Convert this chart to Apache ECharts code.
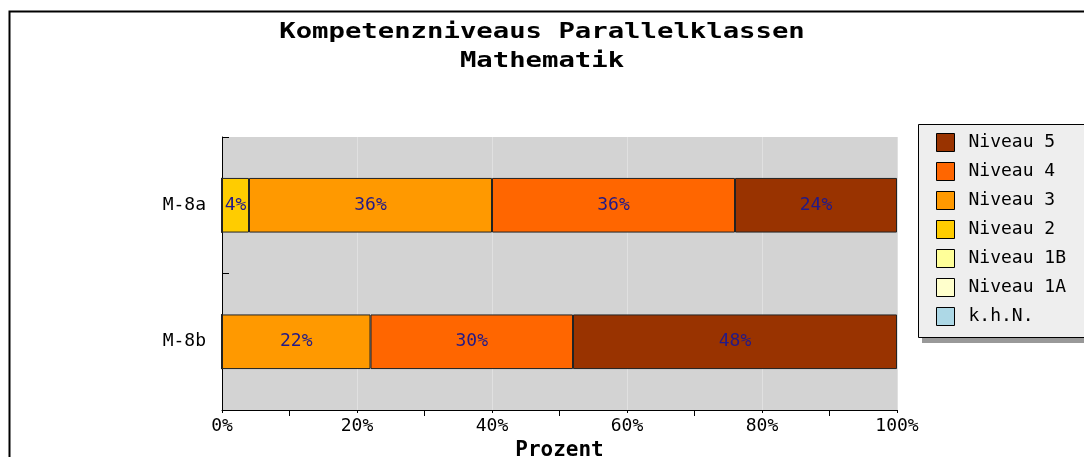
<!DOCTYPE html>
<html><head><meta charset="utf-8">
<script src="https://cdn.jsdelivr.net/npm/echarts@6/dist/echarts.min.js"></script>
<style>html,body{margin:0;padding:0;background:#fff}#c{width:1084px;height:457px}</style>
</head><body><div id="c"></div>
<script>
const titleLines = ['Kompetenzniveaus Parallelklassen', 'Mathematik'];
const categories = ['M-8a', 'M-8b'];
const seriesNames = ['k.h.N.', 'Niveau 1A', 'Niveau 1B', 'Niveau 2', 'Niveau 3', 'Niveau 4', 'Niveau 5'];
const khN = [0, 0];
const niveau1A = [0, 0];
const niveau1B = [0, 0];
const niveau2 = [4, 0];
const niveau3 = [36, 22];
const niveau4 = [36, 30];
const niveau5 = [24, 48];
const xTicks = ['0%', '20%', '40%', '60%', '80%', '100%'];

const values = [khN, niveau1A, niveau1B, niveau2, niveau3, niveau4, niveau5];
const colors = ['#add8e6', '#ffffcc', '#ffff99', '#ffcc00', '#ff9900', '#ff6600', '#993300'];
const font = '"DejaVu Sans Mono", monospace';

const chart = echarts.init(document.getElementById('c'), null, {renderer: 'canvas'});
chart.setOption({
  animation: false,
  backgroundColor: '#fff',
  graphic: [
    {type: 'rect', left: 7, top: 9, shape: {width: 1200, height: 600},
      style: {fill: 'none', stroke: '#000', lineWidth: 2}, silent: true, z: 0},
    {type: 'text', x: 542, y: 32, scaleX: 1.24, silent: true,
      style: {text: titleLines[0], font: 'bold 22px ' + font, fill: '#000', textAlign: 'center', textVerticalAlign: 'middle'}},
    {type: 'text', x: 542, y: 61, scaleX: 1.24, silent: true,
      style: {text: titleLines[1], font: 'bold 22px ' + font, fill: '#000', textAlign: 'center', textVerticalAlign: 'middle'}},
    {type: 'rect', left: 922, top: 130, shape: {width: 300, height: 213}, silent: true, z: 0,
      style: {fill: '#999999'}},
    {type: 'rect', left: 918, top: 124, shape: {width: 300, height: 213}, silent: true, z: 1,
      style: {fill: '#eeeeee', stroke: '#000', lineWidth: 1}}
  ],
  legend: {
    orient: 'vertical', left: 936, top: 133,
    data: seriesNames.slice().reverse(),
    padding: 0, itemGap: 10, itemWidth: 18, itemHeight: 18,
    icon: 'rect', z: 10,
    itemStyle: {borderColor: '#000', borderWidth: 1},
    textStyle: {fontFamily: font, fontSize: 18, color: '#000', lineHeight: 18, padding: [0, 0, 0, 9]}
  },
  grid: {left: 222, right: 187, top: 137, bottom: 47, outerBoundsMode: 'none', containLabel: false},
  xAxis: {
    type: 'value', min: 0, max: 100, interval: 20,
    name: 'Prozent', nameLocation: 'middle', nameGap: 28,
    nameTextStyle: {fontFamily: font, fontSize: 21, fontWeight: 'bold', color: '#000'},
    axisLine: {show: true, lineStyle: {color: '#000', width: 1}},
    axisTick: {show: true, length: 3, lineStyle: {color: '#000'}},
    minorTick: {show: true, splitNumber: 2, length: 6, lineStyle: {color: '#000'}},
    axisLabel: {fontFamily: font, fontSize: 18, color: '#000', margin: 7,
      formatter: function (v) { return xTicks[Math.round(v / 20)]; }},
    splitLine: {show: true, lineStyle: {color: '#e0e0e0', width: 1}}
  },
  yAxis: {
    type: 'category', data: categories, inverse: true,
    axisLine: {show: true, lineStyle: {color: '#000'}},
    axisTick: {show: true, inside: true, length: 7, lineStyle: {color: '#000'}},
    axisLabel: {fontFamily: font, fontSize: 18, color: '#000', margin: 16},
    splitArea: {show: true, areaStyle: {color: ['#d3d3d3', '#d3d3d3']}},
    splitLine: {show: false}
  },
  series: seriesNames.map(function (n, i) {
    return {
      name: n, type: 'bar', stack: 'total', data: values[i], barWidth: '40%',
      itemStyle: {color: colors[i], borderColor: '#222', borderWidth: 1},
      label: {
        show: true, position: 'inside', fontFamily: font, fontSize: 18, color: '#221a88',
        formatter: function (p) { return p.value > 0 ? p.value + '%' : ''; }
      }
    };
  })
});
</script></body></html>
